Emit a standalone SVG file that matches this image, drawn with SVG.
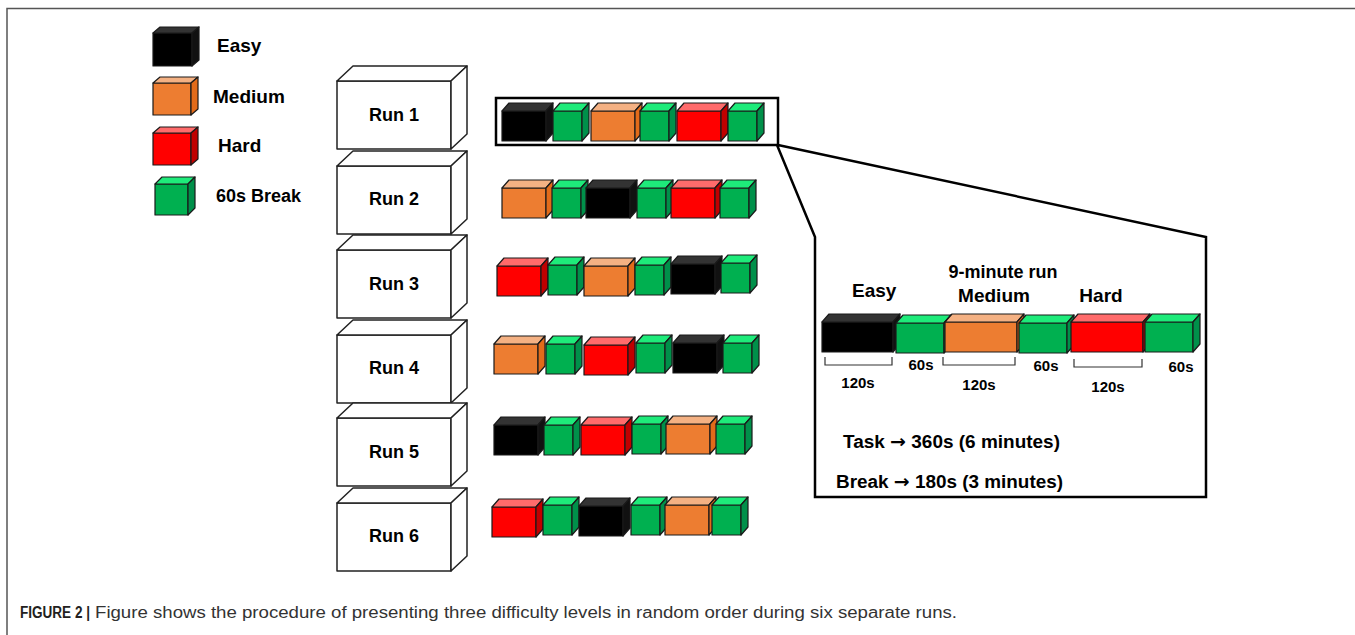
<svg xmlns="http://www.w3.org/2000/svg" xmlns:xlink="http://www.w3.org/1999/xlink" width="1355" height="635" viewBox="0 0 1355 635">
<style>
.t{font-family:"Liberation Sans",Arial,sans-serif;font-weight:bold;fill:#000}
.ar{font-family:"DejaVu Sans",sans-serif;font-weight:bold}
.c{stroke:#1a1a1a;stroke-width:1.2;stroke-linejoin:round}
.box{fill:#fff;stroke:#222;stroke-width:1.5;stroke-linejoin:round}
.ln{fill:none;stroke:#000;stroke-width:2.5;stroke-linejoin:miter}
.br{fill:none;stroke:#333;stroke-width:1.2}
.cap{font-family:"Liberation Sans",Arial,sans-serif;font-size:16px;fill:#333}
</style>
<defs>
<g id="blk" class="c"><rect x="0" y="0" width="44" height="30" fill="#000"/><polygon points="0,0 7,-8 51,-8 44,0" fill="#333"/><polygon points="44,0 51,-8 51,22 44,30" fill="#111"/></g>
<g id="org" class="c"><rect x="0" y="0" width="44" height="30" fill="#ED7D31"/><polygon points="0,0 7,-8 51,-8 44,0" fill="#F4B183"/><polygon points="44,0 51,-8 51,22 44,30" fill="#E26B1A"/></g>
<g id="red" class="c"><rect x="0" y="0" width="44" height="30" fill="#FF0000"/><polygon points="0,0 7,-8 51,-8 44,0" fill="#FF6B6B"/><polygon points="44,0 51,-8 51,22 44,30" fill="#C00000"/></g>
<g id="grn" class="c"><rect x="0" y="0" width="29" height="30" fill="#00B050"/><polygon points="0,0 7,-8 36,-8 29,0" fill="#1EEB7A"/><polygon points="29,0 36,-8 36,22 29,30" fill="#00904A"/></g>
<g id="blkL" class="c"><rect x="0" y="0" width="71" height="30" fill="#000"/><polygon points="0,0 7,-8 78,-8 71,0" fill="#333"/><polygon points="71,0 78,-8 78,22 71,30" fill="#111"/></g>
<g id="orgL" class="c"><rect x="0" y="0" width="72" height="30" fill="#ED7D31"/><polygon points="0,0 7,-8 79,-8 72,0" fill="#F4B183"/><polygon points="72,0 79,-8 79,22 72,30" fill="#E26B1A"/></g>
<g id="redL" class="c"><rect x="0" y="0" width="72" height="30" fill="#FF0000"/><polygon points="0,0 7,-8 79,-8 72,0" fill="#FF6B6B"/><polygon points="72,0 79,-8 79,22 72,30" fill="#C00000"/></g>
<g id="grnL" class="c"><rect x="0" y="0" width="48" height="30" fill="#00B050"/><polygon points="0,0 7,-8 55,-8 48,0" fill="#1EEB7A"/><polygon points="48,0 55,-8 55,22 48,30" fill="#00904A"/></g>
<g id="run"><rect class="box" x="0" y="0" width="114" height="68"/><polygon class="box" points="0,0 16,-15 130,-15 114,0"/><polygon class="box" points="114,0 130,-15 130,53 114,68"/></g>
</defs>

<rect x="0" y="0" width="1355" height="635" fill="#fff"/>
<g id="frame" fill="none" stroke="#555" stroke-width="1.5">
<path d="M7,635 V8.5 H1355"/>
</g>

<g id="legend">
<g id="leg-easy" class="c"><rect x="153" y="33" width="39" height="33" fill="#000"/><polygon points="153,33 160,27 199,27 192,33" fill="#333"/><polygon points="192,33 199,27 199,60 192,66" fill="#111"/></g>
<text class="t" x="217" y="52" font-size="19">Easy</text>
<g id="leg-medium" class="c"><rect x="153" y="83" width="38" height="32" fill="#ED7D31"/><polygon points="153,83 160,77 198,77 191,83" fill="#F4B183"/><polygon points="191,83 198,77 198,109 191,115" fill="#E26B1A"/></g>
<text class="t" x="213" y="103" font-size="19">Medium</text>
<g id="leg-hard" class="c"><rect x="153" y="133" width="38" height="32" fill="#FF0000"/><polygon points="153,133 160,127 198,127 191,133" fill="#FF6B6B"/><polygon points="191,133 198,127 198,159 191,165" fill="#C00000"/></g>
<text class="t" x="218" y="152" font-size="19">Hard</text>
<g id="leg-break" class="c"><rect x="155" y="184" width="33" height="31" fill="#00B050"/><polygon points="155,184 162,177 195,177 188,184" fill="#1EEB7A"/><polygon points="188,184 195,177 195,208 188,215" fill="#00904A"/></g>
<text class="t" x="216" y="202" font-size="18">60s Break</text>
</g>

<g id="runs">
<g id="run1"><use xlink:href="#run" x="337" y="81"/><text class="t" x="394" y="121" font-size="18" text-anchor="middle">Run 1</text></g>
<g id="run2"><use xlink:href="#run" x="337" y="166"/><text class="t" x="394" y="205" font-size="18" text-anchor="middle">Run 2</text></g>
<g id="run3"><use xlink:href="#run" x="337" y="250"/><text class="t" x="394" y="290" font-size="18" text-anchor="middle">Run 3</text></g>
<g id="run4"><use xlink:href="#run" x="337" y="335"/><text class="t" x="394" y="374" font-size="18" text-anchor="middle">Run 4</text></g>
<g id="run5"><use xlink:href="#run" x="337" y="418"/><text class="t" x="394" y="458" font-size="18" text-anchor="middle">Run 5</text></g>
<g id="run6"><use xlink:href="#run" x="337" y="503"/><text class="t" x="394" y="542" font-size="18" text-anchor="middle">Run 6</text></g>
</g>

<g id="row1">
<use xlink:href="#blk" x="502" y="111"/><use xlink:href="#grn" x="553" y="111"/><use xlink:href="#org" x="591" y="111"/><use xlink:href="#grn" x="640" y="111"/><use xlink:href="#red" x="677" y="111"/><use xlink:href="#grn" x="728" y="111"/>
</g>
<g id="row2">
<use xlink:href="#org" x="502" y="188"/><use xlink:href="#grn" x="552" y="188"/><use xlink:href="#blk" x="586" y="188"/><use xlink:href="#grn" x="637" y="188"/><use xlink:href="#red" x="671" y="188"/><use xlink:href="#grn" x="720" y="188"/>
</g>
<g id="row3">
<use xlink:href="#red" x="497" y="266"/><use xlink:href="#grn" x="548" y="265"/><use xlink:href="#org" x="584" y="266"/><use xlink:href="#grn" x="635" y="265"/><use xlink:href="#blk" x="671" y="264"/><use xlink:href="#grn" x="721" y="263"/>
</g>
<g id="row4">
<use xlink:href="#org" x="494" y="344"/><use xlink:href="#grn" x="546" y="344"/><use xlink:href="#red" x="584" y="345"/><use xlink:href="#grn" x="636" y="343"/><use xlink:href="#blk" x="673" y="343"/><use xlink:href="#grn" x="723" y="343"/>
</g>
<g id="row5">
<use xlink:href="#blk" x="494" y="425"/><use xlink:href="#grn" x="544" y="425"/><use xlink:href="#red" x="581" y="425"/><use xlink:href="#grn" x="632" y="424"/><use xlink:href="#org" x="666" y="424"/><use xlink:href="#grn" x="716" y="424"/>
</g>
<g id="row6">
<use xlink:href="#red" x="492" y="507"/><use xlink:href="#grn" x="543" y="505"/><use xlink:href="#blk" x="579" y="506"/><use xlink:href="#grn" x="631" y="505"/><use xlink:href="#org" x="665" y="505"/><use xlink:href="#grn" x="712" y="505"/>
</g>

<g id="connectors">
<rect class="ln" x="496" y="98" width="282" height="47"/>
<polyline class="ln" points="777,145 815,237 815,497 1206,497 1206,237 778,145"/>
</g>

<g id="detail">
<text class="t" x="852" y="297" font-size="19">Easy</text>
<text class="t" x="1003" y="278" font-size="18" text-anchor="middle">9-minute run</text>
<text class="t" x="994" y="302" font-size="19" text-anchor="middle">Medium</text>
<text class="t" x="1101" y="302" font-size="19" text-anchor="middle">Hard</text>
<use xlink:href="#blkL" x="822" y="322"/><use xlink:href="#grnL" x="896" y="323"/><use xlink:href="#orgL" x="945" y="322"/><use xlink:href="#grnL" x="1019" y="323"/><use xlink:href="#redL" x="1071" y="322"/><use xlink:href="#grnL" x="1145" y="322"/>
<path class="br" d="M825,357 V365 H892 V357 M943,357 V365 H1015 V357 M1074,359 V367 H1142 V359"/>
<text class="t" x="921" y="370" font-size="15" text-anchor="middle">60s</text>
<text class="t" x="1046" y="371" font-size="15" text-anchor="middle">60s</text>
<text class="t" x="1181" y="372" font-size="15" text-anchor="middle">60s</text>
<text class="t" x="858" y="388" font-size="15" text-anchor="middle">120s</text>
<text class="t" x="979" y="390" font-size="15" text-anchor="middle">120s</text>
<text class="t" x="1108" y="392" font-size="15" text-anchor="middle">120s</text>
<text class="t" x="843" y="448" font-size="18" textLength="217" lengthAdjust="spacingAndGlyphs">Task <tspan class="ar">→</tspan> 360s (6 minutes)</text>
<text class="t" x="836" y="488" font-size="18" textLength="227" lengthAdjust="spacingAndGlyphs">Break <tspan class="ar">→</tspan> 180s (3 minutes)</text>
</g>

<g id="caption">
<text class="cap" x="20" y="618" font-weight="bold" textLength="70" lengthAdjust="spacingAndGlyphs" style="fill:#231f20">FIGURE 2 |</text>
<text class="cap" x="95" y="618" textLength="862" lengthAdjust="spacingAndGlyphs">Figure shows the procedure of presenting three difficulty levels in random order during six separate runs.</text>
</g>
</svg>
